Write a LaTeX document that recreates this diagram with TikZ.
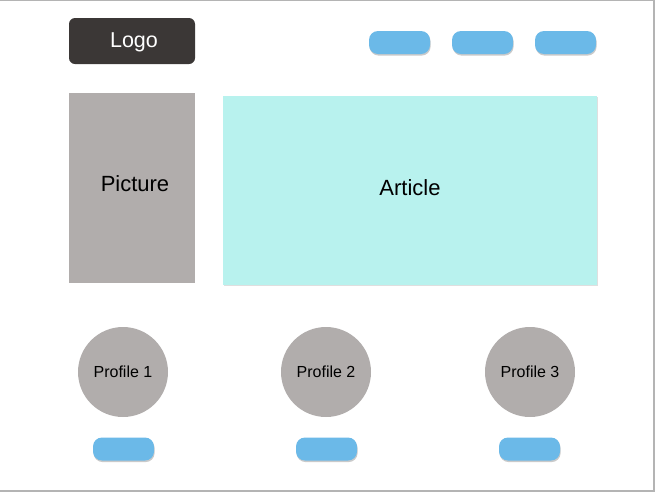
\documentclass[tikz,border=0pt]{standalone}
\usepackage{fontspec}
\setmainfont{Liberation Sans}
\usetikzlibrary{shadows}
\definecolor{logofill}{HTML}{3B3736}
\definecolor{btnfill}{HTML}{6BB9E8}
\definecolor{greyfill}{HTML}{B1ADAC}
\definecolor{articlefill}{HTML}{B8F2EE}
\definecolor{framegrey}{HTML}{B4B4B4}
\tikzset{
  btn/.style={fill=btnfill, rounded corners=9pt, minimum width=61pt, minimum height=23pt, inner sep=0pt,
    drop shadow={shadow xshift=0.6pt, shadow yshift=-1.6pt, opacity=0.35, fill=black!60}},
  profile/.style={circle, fill=greyfill, minimum size=90pt, inner sep=0pt, font=\fontsize{16}{19}\selectfont},
  label/.style={font=\fontsize{22}{26}\selectfont}
}
\begin{document}
\begin{tikzpicture}[x=1pt,y=-1pt]
\useasboundingbox (0,0) rectangle (658,496);
% page frame
\draw[framegrey, line width=1.2pt] (0,0.6) -- (654,0.6) -- (654,491) -- (0,491);
% header
\node[fill=logofill, rounded corners=6pt, minimum width=126pt, minimum height=46pt, inner sep=0pt] (logo) at (132,41) {};
\node[text=white, font=\fontsize{21.5}{24}\selectfont] (logolabel) at (134,42) {Logo};
\node[btn] (nav1) at (399.5,42.5) {};
\node[btn] (nav2) at (482.5,42.5) {};
\node[btn] (nav3) at (565.5,42.5) {};
% content blocks
\node[fill=greyfill, minimum width=126pt, minimum height=190pt, inner sep=0pt] (picture) at (132,188) {};
\node[label] (picturelabel) at (135,184) {Picture};
\node[fill=articlefill, minimum width=374pt, minimum height=189pt, inner sep=0pt,
  drop shadow={shadow xshift=0.5pt, shadow yshift=-1.2pt, opacity=0.25, fill=black!50}] (article) at (410,190.5) {};
\node[label] (articlelabel) at (410,188) {Article};
% profiles
\node[profile] (p1) at (123,372) {Profile 1};
\node[profile] (p2) at (326,372) {Profile 2};
\node[profile] (p3) at (530,372) {Profile 3};
\node[btn] (b1) at (123.5,449) {};
\node[btn] (b2) at (326.5,449) {};
\node[btn] (b3) at (529.5,449) {};
\end{tikzpicture}
\end{document}
